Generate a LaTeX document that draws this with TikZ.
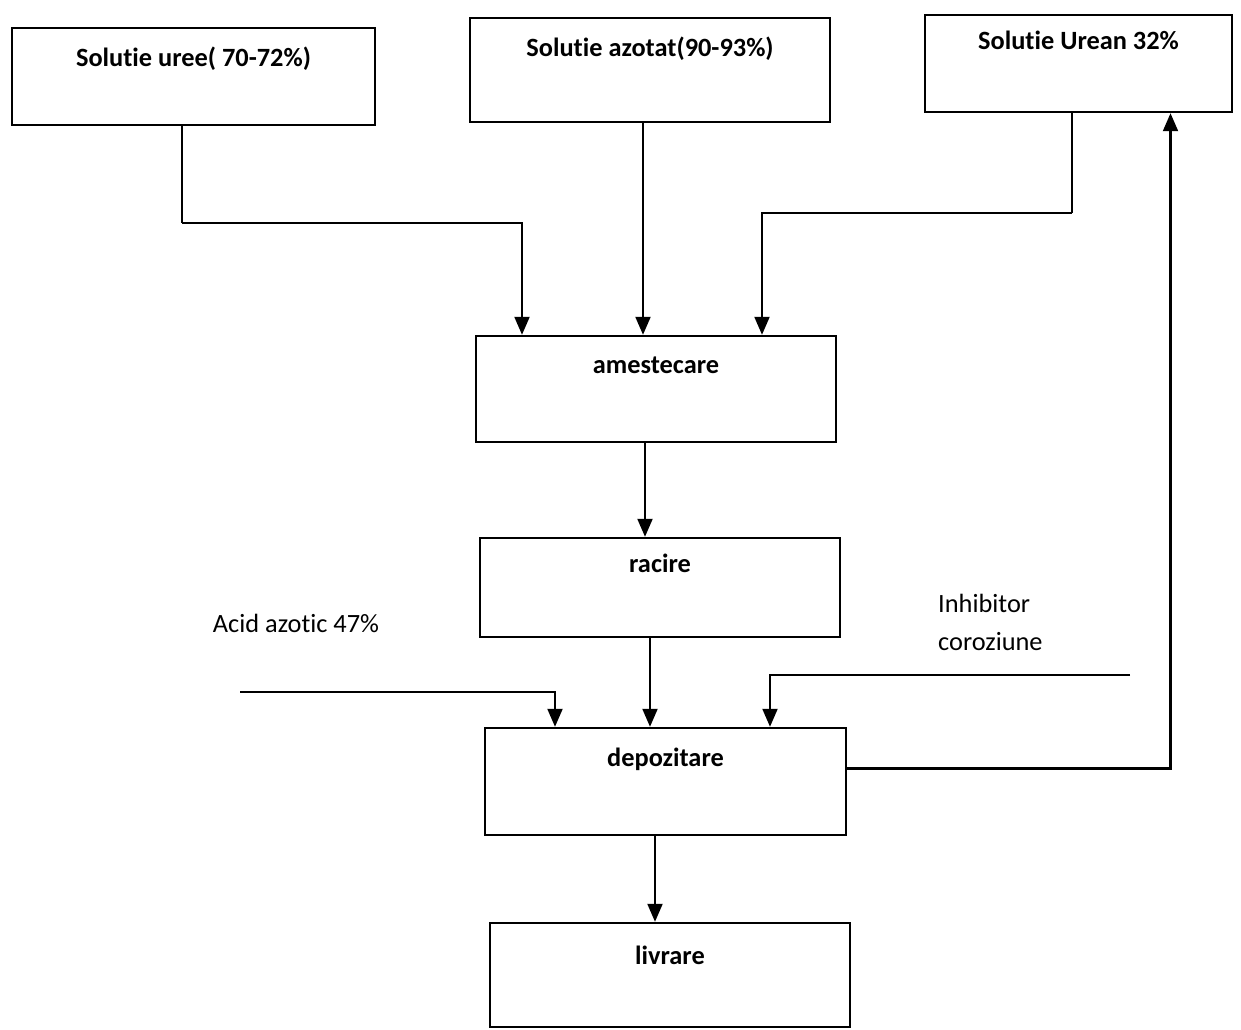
\documentclass[tikz,border=0pt]{standalone}
\usepackage{fontspec}
\setmainfont{Carlito}[Ligatures={NoCommon}]
\usetikzlibrary{arrows.meta, positioning, calc}

\begin{document}
\begin{tikzpicture}[x=0.02cm,y=-0.02cm]
  % Styles
  \tikzset{
    box/.style={draw,line width=1.4pt,rectangle,inner sep=0pt},
    boxtext/.style={font=\fontsize{15}{18}\selectfont\bfseries},
    feedtext/.style={font=\fontsize{15}{18}\selectfont},
    flow/.style={line width=1.2pt,-{Triangle[length=3.6mm,width=3mm]}},
    pipe/.style={line width=1.2pt}
  }
  \useasboundingbox (0,0) rectangle (1241,1029);

  % Feed solutions (top row)
  \node[box,minimum width=363*0.02cm,minimum height=97*0.02cm] (uree) at (193.5,76.5) {};
  \node[box,minimum width=360*0.02cm,minimum height=104*0.02cm] (azot) at (650,70) {};
  \node[box,minimum width=307*0.02cm,minimum height=97*0.02cm] (urean) at (1078.5,63.5) {};
  \node[boxtext] (ureeT) at ($(uree.north)+(0,32)$) {Solutie uree( 70-72\%)};
  \node[boxtext] (azotT) at ($(azot.north)+(0,32)$) {Solutie azotat(90-93\%)};
  \node[boxtext] (ureanT) at ($(urean.north)+(0,27)$) {Solutie Urean 32\%};

  % Process steps
  \node[box,minimum width=360*0.02cm,minimum height=106*0.02cm] (amest) at (656,389) {};
  \node[box,minimum width=360*0.02cm,minimum height=99*0.02cm] (racire) at (660,587.5) {};
  \node[box,minimum width=361*0.02cm,minimum height=107*0.02cm] (depoz) at (665.5,781.5) {};
  \node[box,minimum width=360*0.02cm,minimum height=104*0.02cm] (livr) at (670,975) {};
  \node[boxtext] (amestT) at ($(amest.north)+(0,31)$) {amestecare};
  \node[boxtext] (racireT) at ($(racire.north)+(0,27)$) {racire};
  \node[boxtext] (depozT) at ($(depoz.north)+(0,33)$) {depozitare};
  \node[boxtext] (livrT) at ($(livr.north)+(0,34)$) {livrare};

  % Side feeds
  \node[feedtext] (acid) at (296,623) {Acid azotic 47\%};
  \node[feedtext,align=left,anchor=west,
        font=\fontsize{15}{21.6}\selectfont] (inhib) at (932,622) {Inhibitor\\coroziune};
  \coordinate (acidin) at (240,692);
  \coordinate (inhibin) at (1130,675);

  % Connectors into mixing
  \draw[pipe] ($(uree.south)+(-11.5,0)$) -- ++(0,97) coordinate (j1);
  \draw[flow] (j1) -| ($(amest.north)+(-134,0)$);
  \draw[flow] ($(azot.south)+(-7,0)$) -- ($(amest.north)+(-13,0)$);
  \draw[pipe] ($(urean.south)+(-6.5,0)$) -- ++(0,100) coordinate (j3);
  \draw[flow] (j3) -| ($(amest.north)+(106,0)$);

  % Main line
  \draw[flow] ($(amest.south)+(-11,0)$) -- ($(racire.north)+(-15,0)$);
  \draw[flow] ($(racire.south)+(-10,0)$) -- ($(depoz.north)+(-15.5,0)$);
  \draw[flow] (acidin) -| ($(depoz.north)+(-110.5,0)$);
  \draw[flow] (inhibin) -| ($(depoz.north)+(104.5,0)$);
  \draw[flow] ($(depoz.south)+(-10.5,0)$) -- ($(livr.north)+(-15,0)$);

  % Recycle to Urean 32%
  \draw[flow] ($(depoz.east)+(0,-13)$) -| ($(urean.south)+(92,0)$);
\end{tikzpicture}
\end{document}
